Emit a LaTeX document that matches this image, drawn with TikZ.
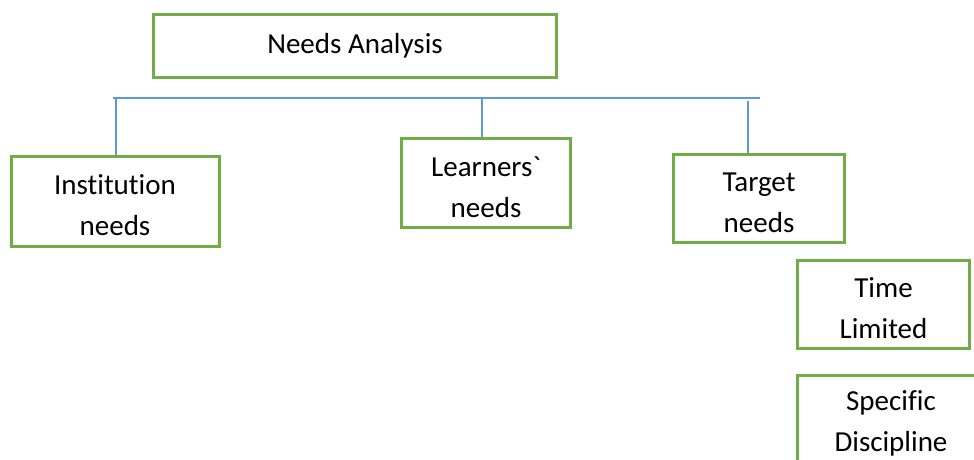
\documentclass[tikz,border=0pt]{standalone}
\usepackage{fontspec}
\newfontfamily\calfont{Carlito}[Ligatures=NoCommon]
\definecolor{boxgreen}{HTML}{70AD47}
\definecolor{lineblue}{HTML}{5B9BD5}
\begin{document}
\begin{tikzpicture}[x=1pt,y=-1pt,
  box/.style={draw=boxgreen,line width=3pt,inner sep=0pt},
  txt/.style={align=center,inner sep=0pt,yshift=-4pt,
    font=\calfont\fontsize{29}{41}\selectfont},
  link/.style={draw=lineblue,line width=1.5pt}]
\useasboundingbox (0,0) rectangle (974,459);
\clip (0,0) rectangle (974,459);
\node[box,minimum width=403pt,minimum height=63pt,
  label={[txt,yshift=4pt]center:Needs Analysis}] (na) at (355,46) {};
\node[box,minimum width=208pt,minimum height=90pt,
  label={[txt]center:Institution\\needs}] (inst) at (115,201.5) {};
\node[box,minimum width=169pt,minimum height=89pt,
  label={[txt]center:Learners`\\needs}] (learn) at (486,183) {};
\node[box,minimum width=171pt,minimum height=88pt,
  label={[txt]center:Target\\needs}] (target) at (759,198.5) {};
\node[box,minimum width=172pt,minimum height=88pt,
  label={[txt]center:Time\\Limited}] (time) at (883.5,304.5) {};
\node[box,minimum width=187pt,minimum height=88pt,
  label={[txt]center:Specific\\Discipline}] (spec) at (891,419.5) {};
\coordinate (hl) at (113,98);
\coordinate (hr) at (760,98);
\coordinate (hi) at (116,98);
\coordinate (hlr) at (482,97);
\coordinate (ht) at (748,101);
\draw[link] (hl) -- (hr);
\draw[link] (hi) -- (hi |- inst.north);
\draw[link] (hlr) -- (hlr |- learn.north);
\draw[link] (ht) -- (ht |- target.north);
\end{tikzpicture}
\end{document}
